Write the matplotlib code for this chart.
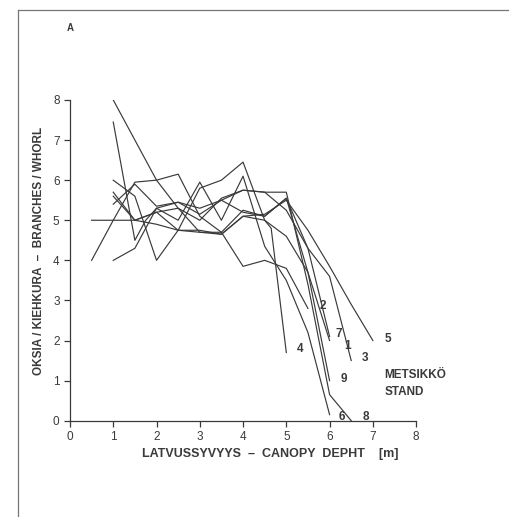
import matplotlib.pyplot as plt
from matplotlib.lines import Line2D

# branches per whorl against canopy depth, one profile per stand
stand_x = {
    '1': [1, 1.5, 2, 2.5, 3, 3.5, 4, 4.5, 5, 5.5, 6],
    '2': [0.5, 1, 1.5, 2, 2.5, 3, 3.5, 4, 4.5, 5, 5.5],
    '3': [1, 1.5, 2, 2.5, 3, 3.5, 4, 4.5, 5, 5.5, 6, 6.5],
    '4': [1, 1.5, 2, 2.5, 3, 3.5, 4, 4.5, 4.65, 5],
    '5': [0.5, 1, 1.5, 2, 2.5, 3, 3.5, 4, 4.5, 5, 5.5, 6, 6.5, 7],
    '6': [1, 1.5, 1.75, 2, 2.5, 3, 3.5, 4, 4.5, 5, 5.5, 6],
    '7': [1, 1.5, 2, 2.5, 3, 3.5, 4, 4.5, 5, 5.5, 6],
    '8': [1, 1.5, 2, 2.5, 3, 3.5, 4, 4.5, 5, 5.5, 6, 6.5],
    '9': [1, 2, 2.5, 3, 3.5, 4, 4.5, 5, 5.5, 6],
}
stand_y = {
    '1': [5.4, 5.9, 5.35, 5.45, 5.3, 5.5, 5.2, 5.1, 5.55, 4.3, 2.1],
    '2': [4.0, 5.0, 5.95, 6.0, 6.15, 5.1, 4.7, 3.85, 4.0, 3.8, 2.8],
    '3': [5.7, 5.0, 5.2, 5.3, 5.0, 5.55, 5.75, 5.7, 5.25, 4.3, 3.6, 1.5],
    '4': [6.0, 5.6, 4.0, 4.75, 4.75, 4.65, 5.1, 5.0, 4.8, 1.7],
    '5': [5.0, 5.0, 5.0, 4.9, 4.75, 4.7, 4.65, 5.1, 5.15, 5.5, 4.75, 3.85, 2.9, 2.0],
    '6': [7.45, 4.5, 5.0, 5.3, 5.0, 5.95, 5.0, 6.1, 4.35, 3.5, 2.2, 0.15],
    '7': [5.6, 5.0, 5.2, 4.75, 5.8, 6.0, 6.45, 5.0, 4.6, 3.7, 2.0],
    '8': [4.0, 4.3, 5.3, 5.45, 5.15, 5.5, 5.75, 5.7, 5.7, 3.4, 0.65, 0.0],
    '9': [8.0, 6.0, 5.3, 4.7, 4.7, 5.25, 5.1, 5.55, 3.7, 1.0],
}
# where each stand number is written
label_pos = {
    '1': (6.42, 1.86), '2': (5.85, 2.87), '3': (6.81, 1.57),
    '4': (5.32, 1.78), '5': (7.35, 2.05), '6': (6.28, 0.10),
    '7': (6.22, 2.16), '8': (6.83, 0.08), '9': (6.32, 1.04),
}

ink = '#3a3a3a'
plt.rcParams['font.family'] = ['Liberation Sans', 'DejaVu Sans']

fig = plt.figure(figsize=(5.09, 5.17), dpi=100)
ax = fig.add_axes([0.1375, 0.1863, 0.68, 0.6203])

for k in stand_x:
    ax.plot(stand_x[k], stand_y[k], color=ink, lw=0.85)
for k, (tx, ty) in label_pos.items():
    ax.text(tx, ty, k, fontsize=8.5, color=ink, fontweight='bold',
            ha='center', va='center')

ax.text(7.27, 1.14, 'METSIKKÖ', fontsize=8.5, color=ink, fontweight='bold',
        ha='left', va='center')
ax.text(7.27, 0.72, 'STAND', fontsize=8.5, color=ink, fontweight='bold',
        ha='left', va='center')

ax.set_xlim(0, 8)
ax.set_ylim(0, 8)
ax.set_xticks(range(0, 9))
ax.set_yticks(range(0, 9))
for s in ['top', 'right']:
    ax.spines[s].set_visible(False)
for s in ['left', 'bottom']:
    ax.spines[s].set_color(ink)
    ax.spines[s].set_linewidth(0.9)
ax.tick_params(colors=ink, labelsize=8.5, length=4, width=0.9, direction='out')
ax.patch.set_alpha(0)

ax.set_xlabel('LATVUSSYVYYS  –  CANOPY  DEPHT    [m]', fontsize=9,
              fontweight='bold', color=ink)
ax.set_ylabel('OKSIA / KIEHKURA  –  BRANCHES / WHORL', fontsize=8.5,
              fontweight='bold', color=ink)
ax.xaxis.set_label_coords(0.58, -0.085)
ax.yaxis.set_label_coords(-0.072, 0.53)

fig.text(70 / 509, 1 - 28 / 517, 'A', fontsize=7, color=ink, fontweight='bold',
         ha='center', va='center')

# border of the printed panel
fig.add_artist(Line2D([18 / 509, 18 / 509], [0, 1 - 10 / 517], color='#777777', lw=0.9))
fig.add_artist(Line2D([18 / 509, 1], [1 - 10 / 517, 1 - 10 / 517], color='#777777', lw=0.9))

fig.savefig('out.png', dpi=100)
